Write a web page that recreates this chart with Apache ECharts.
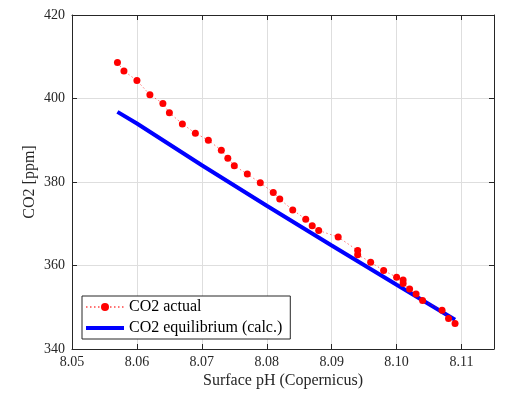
<!DOCTYPE html>
<html>
<head>
<meta charset="utf-8">
<script src="https://cdn.jsdelivr.net/npm/echarts@6/dist/echarts.min.js"></script>
<style>html,body{margin:0;padding:0;background:#fff}#c{width:519px;height:394px}</style>
</head>
<body>
<div id="c"></div>
<script>
// Red: CO2 actual (pH, ppm)
var actualPH = [8.057, 8.058, 8.060, 8.062, 8.064, 8.065, 8.067, 8.069, 8.071, 8.073, 8.074, 8.075, 8.077, 8.079, 8.081, 8.082, 8.084, 8.086, 8.087, 8.088, 8.091, 8.094, 8.094, 8.096, 8.098, 8.100, 8.101, 8.101, 8.102, 8.103, 8.104, 8.107, 8.108, 8.109];
var actualCO2 = [408.6, 406.6, 404.3, 400.9, 398.8, 396.6, 393.9, 391.7, 390.0, 387.6, 385.7, 383.9, 381.9, 379.8, 377.5, 375.9, 373.3, 371.1, 369.5, 368.4, 366.8, 363.6, 362.6, 360.8, 358.8, 357.2, 356.5, 355.7, 354.4, 353.2, 351.6, 349.3, 347.3, 346.1];
// Blue: CO2 equilibrium (calc.)
var equilPH = [8.057, 8.060, 8.070, 8.080, 8.090, 8.100, 8.109];
var equilCO2 = [396.8, 394.0, 384.0, 374.3, 364.8, 355.4, 347.0];
var xTicks = {min: 8.05, max: 8.115, step: 0.01};
var yTicks = {min: 340, max: 420, step: 20};
var seriesNames = ['CO2 actual', 'CO2 equilibrium (calc.)'];
var xName = 'Surface pH (Copernicus)';
var yName = 'CO2 [ppm]';

function pairs(xs, ys) { return xs.map(function (x, i) { return [x, ys[i]]; }); }

var FONT = 'Liberation Serif';
var AX = '#262626';
var chart = echarts.init(document.getElementById('c'));
var hiddenAxisCommon = {
  axisLine: {show: true, lineStyle: {color: AX, width: 1}},
  axisTick: {show: true, inside: true, length: 5, lineStyle: {color: AX}},
  axisLabel: {show: false},
  splitLine: {show: false}
};
chart.setOption({
  animation: false,
  backgroundColor: '#fff',
  textStyle: {fontFamily: FONT},
  grid: {left: 72, top: 15, right: 25, bottom: 45, show: false},
  legend: {
    orient: 'vertical', left: 82, top: 296,
    backgroundColor: '#fff',
    borderColor: AX, borderWidth: 1,
    padding: [3, 8, 3, 3],
    itemWidth: 38, itemHeight: 10, itemGap: 5,
    textStyle: {fontFamily: FONT, fontSize: 16, color: '#000'},
    data: [
      {name: seriesNames[0]},
      {name: seriesNames[1], icon: 'path://M0,0 L38,0 L38,4 L0,4 Z', itemStyle: {color: '#0000ff'}}
    ]
  },
  xAxis: [
    {
      type: 'value', position: 'bottom',
      min: xTicks.min, max: xTicks.max, interval: xTicks.step,
      name: xName, nameLocation: 'middle', nameGap: 24, nameMoveOverlap: false,
      nameTextStyle: {fontFamily: FONT, fontSize: 16, color: AX},
      axisLine: {show: true, lineStyle: {color: AX, width: 1}},
      axisTick: {show: true, inside: true, length: 5, lineStyle: {color: AX}},
      axisLabel: {fontFamily: FONT, fontSize: 14, color: AX, margin: 6, showMaxLabel: false,
        formatter: function (v) { return v.toFixed(2); }},
      splitLine: {show: true, lineStyle: {color: '#dedede', width: 1}}
    },
    Object.assign({}, hiddenAxisCommon, {
      type: 'value', position: 'top',
      min: xTicks.min, max: xTicks.max, interval: xTicks.step
    })
  ],
  yAxis: [
    {
      type: 'value', position: 'left',
      min: yTicks.min, max: yTicks.max, interval: yTicks.step,
      name: yName, nameLocation: 'middle', nameGap: 34, nameRotate: 90, nameMoveOverlap: false,
      nameTextStyle: {fontFamily: FONT, fontSize: 16, color: AX},
      axisLine: {show: true, lineStyle: {color: AX, width: 1}},
      axisTick: {show: true, inside: true, length: 5, lineStyle: {color: AX}},
      axisLabel: {fontFamily: FONT, fontSize: 14, color: AX, margin: 7},
      splitLine: {show: true, lineStyle: {color: '#dedede', width: 1}}
    },
    Object.assign({}, hiddenAxisCommon, {
      type: 'value', position: 'right',
      min: yTicks.min, max: yTicks.max, interval: yTicks.step
    })
  ],
  series: [
    {
      name: seriesNames[0], type: 'line',
      data: pairs(actualPH, actualCO2),
      symbol: 'circle', symbolSize: 7,
      itemStyle: {color: '#ff0000'},
      lineStyle: {color: 'rgba(255,0,0,0.55)', width: 1, type: [1.5, 2.5]},
      z: 3
    },
    {
      name: seriesNames[1], type: 'line',
      data: pairs(equilPH, equilCO2),
      symbol: 'none', smooth: false,
      itemStyle: {color: '#0000ff'},
      lineStyle: {color: '#0000ff', width: 4},
      z: 2
    }
  ]
});
</script>
</body>
</html>
